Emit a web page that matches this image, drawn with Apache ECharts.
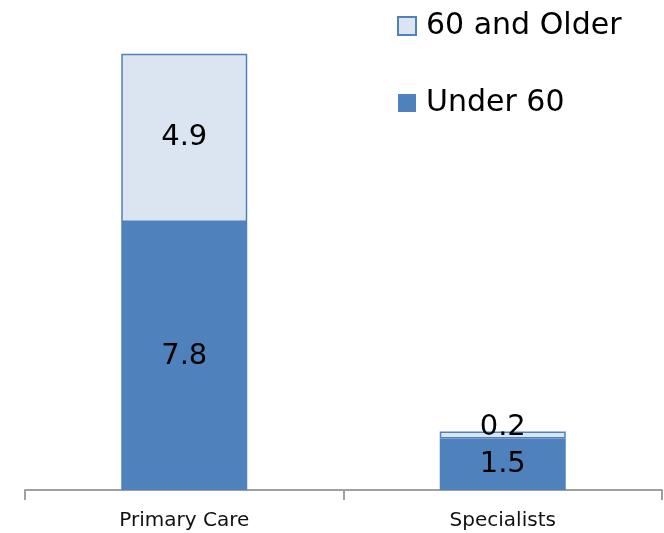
<!DOCTYPE html>
<html><head><meta charset="utf-8">
<script src="https://cdn.jsdelivr.net/npm/echarts@6/dist/echarts.min.js"></script>
<style>html,body{margin:0;padding:0;background:#fff}#c{width:664px;height:533px}</style>
</head><body><div id="c"></div>
<script>
const categories = ['Primary Care', 'Specialists'];
const under60 = [7.8, 1.5];
const older60 = [4.9, 0.2];
const seriesNames = ['60 and Older', 'Under 60'];

const FONT = 'DejaVu Sans';
const chart = echarts.init(document.getElementById('c'));
chart.setOption({
  animation: false,
  textStyle: { fontFamily: FONT },
  grid: { left: 25, right: 2, top: 9, bottom: 43 },
  legend: {
    orient: 'vertical', left: 392, top: 6,
    icon: 'rect',
    itemWidth: 18, itemHeight: 18, itemGap: 47,
    data: [seriesNames[0], seriesNames[1]],
    textStyle: { fontFamily: FONT, fontSize: 30, color: '#000', padding: [0, 0, 0, 5] }
  },
  xAxis: {
    type: 'category', data: categories,
    axisLine: { show: true, lineStyle: { color: '#a0a0a0', width: 2 } },
    axisTick: { show: true, length: 10, lineStyle: { color: '#a0a0a0', width: 2 } },
    axisLabel: { fontFamily: FONT, fontSize: 20, color: '#111', margin: 21 }
  },
  yAxis: { type: 'value', min: 0, max: 14, show: false, splitLine: { show: false } },
  series: [
    {
      name: seriesNames[1], type: 'bar', stack: 't', barWidth: 126,
      data: under60,
      itemStyle: { color: '#4F81BD' },
      label: { show: true, position: 'inside', fontSize: 29, color: '#000', fontFamily: FONT }
    },
    {
      name: seriesNames[0], type: 'bar', stack: 't', barWidth: 126,
      data: older60.map((v, i) => i === 1 ? { value: v, label: { offset: [0, -8] } } : v),
      itemStyle: { color: '#DBE5F1', borderColor: '#4F81BD', borderWidth: 1.5 },
      label: { show: true, position: 'inside', fontSize: 29, color: '#000', fontFamily: FONT }
    }
  ]
});
</script></body></html>
